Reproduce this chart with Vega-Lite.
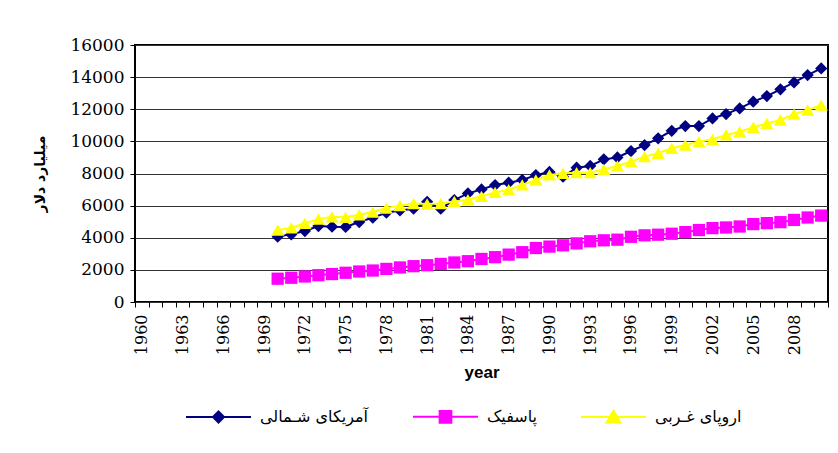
{
  "$schema": "https://vega.github.io/schema/vega-lite/v6.json",
  "autosize": "none",
  "width": 693,
  "height": 257,
  "padding": {"left": 135, "top": 45, "right": 10, "bottom": 151},
  "background": "white",
  "config": {
    "view": {"stroke": "#000", "strokeWidth": 2},
    "axis": {"domain": false, "tickColor": "#000", "labelColor": "#000", "titleColor": "#000"}
  },
  "data": {"values": [
    {"year": 1970, "na": 4070, "pac": 1450, "eu": 4480},
    {"year": 1971, "na": 4210, "pac": 1510, "eu": 4610},
    {"year": 1972, "na": 4420, "pac": 1590, "eu": 4900},
    {"year": 1973, "na": 4730, "pac": 1670, "eu": 5160},
    {"year": 1974, "na": 4690, "pac": 1740, "eu": 5300},
    {"year": 1975, "na": 4670, "pac": 1820, "eu": 5270},
    {"year": 1976, "na": 4980, "pac": 1900, "eu": 5430},
    {"year": 1977, "na": 5250, "pac": 1960, "eu": 5600},
    {"year": 1978, "na": 5560, "pac": 2060, "eu": 5850},
    {"year": 1979, "na": 5700, "pac": 2150, "eu": 6000},
    {"year": 1980, "na": 5810, "pac": 2230, "eu": 6130},
    {"year": 1981, "na": 6240, "pac": 2290, "eu": 6100},
    {"year": 1982, "na": 5810, "pac": 2370, "eu": 6130},
    {"year": 1983, "na": 6350, "pac": 2460, "eu": 6260},
    {"year": 1984, "na": 6760, "pac": 2540, "eu": 6370},
    {"year": 1985, "na": 7010, "pac": 2680, "eu": 6580},
    {"year": 1986, "na": 7280, "pac": 2790, "eu": 6820},
    {"year": 1987, "na": 7430, "pac": 2950, "eu": 6990},
    {"year": 1988, "na": 7600, "pac": 3100, "eu": 7290},
    {"year": 1989, "na": 7900, "pac": 3360, "eu": 7600},
    {"year": 1990, "na": 8100, "pac": 3450, "eu": 7910},
    {"year": 1991, "na": 7800, "pac": 3530, "eu": 8010},
    {"year": 1992, "na": 8360, "pac": 3650, "eu": 8050},
    {"year": 1993, "na": 8470, "pac": 3780, "eu": 8050},
    {"year": 1994, "na": 8880, "pac": 3840, "eu": 8260},
    {"year": 1995, "na": 9000, "pac": 3880, "eu": 8470},
    {"year": 1996, "na": 9400, "pac": 4060, "eu": 8740},
    {"year": 1997, "na": 9770, "pac": 4150, "eu": 9050},
    {"year": 1998, "na": 10190, "pac": 4190, "eu": 9260},
    {"year": 1999, "na": 10660, "pac": 4250, "eu": 9570},
    {"year": 2000, "na": 10950, "pac": 4350, "eu": 9770},
    {"year": 2001, "na": 10950, "pac": 4480, "eu": 9980},
    {"year": 2002, "na": 11430, "pac": 4600, "eu": 10130},
    {"year": 2003, "na": 11700, "pac": 4640, "eu": 10400},
    {"year": 2004, "na": 12050, "pac": 4700, "eu": 10600},
    {"year": 2005, "na": 12470, "pac": 4850, "eu": 10880},
    {"year": 2006, "na": 12820, "pac": 4910, "eu": 11120},
    {"year": 2007, "na": 13240, "pac": 4970, "eu": 11330},
    {"year": 2008, "na": 13670, "pac": 5110, "eu": 11700},
    {"year": 2009, "na": 14130, "pac": 5260, "eu": 11950},
    {"year": 2010, "na": 14540, "pac": 5380, "eu": 12260}
  ]},
  "transform": [{"fold": ["na", "pac", "eu"], "as": ["series", "value"]}],
  "encoding": {
    "x": {
      "field": "year", "type": "ordinal", "bandPosition": 0.5,
      "scale": {"type": "band", "paddingInner": 0, "paddingOuter": 0,
        "domain": [1960,1961,1962,1963,1964,1965,1966,1967,1968,1969,1970,1971,1972,1973,1974,1975,1976,1977,1978,1979,1980,1981,1982,1983,1984,1985,1986,1987,1988,1989,1990,1991,1992,1993,1994,1995,1996,1997,1998,1999,2000,2001,2002,2003,2004,2005,2006,2007,2008,2009,2010]},
      "axis": {
        "title": "year", "titleFont": "Liberation Sans", "titleFontWeight": "bold", "titleFontSize": 17, "titlePadding": 10,
        "labelAngle": 270, "labelFont": "DejaVu Serif", "labelFontSize": 16, "labelPadding": 7,
        "labelOverlap": false, "labelExpr": "datum.value % 3 == 1 ? datum.value : ''",
        "tickBand": "extent", "tickSize": 5, "grid": false
      }
    },
    "y": {
      "field": "value", "type": "quantitative",
      "scale": {"domain": [0, 16000], "nice": false},
      "axis": {
        "title": "میلیارد دلار", "titleFont": "DejaVu Sans", "titleFontWeight": "bold", "titleFontSize": 14, "titlePadding": 22,
        "values": [0,2000,4000,6000,8000,10000,12000,14000,16000], "format": "d",
        "labelFont": "DejaVu Serif", "labelFontSize": 17, "labelPadding": 6, "tickSize": 5,
        "grid": true, "gridColor": "#333", "gridWidth": 1
      }
    }
  },
  "layer": [
    {"transform": [{"filter": "datum.series == 'na'"}], "mark": {"type": "line", "color": "#000080", "strokeWidth": 2}},
    {"transform": [{"filter": "datum.series == 'na'"}], "mark": {"type": "point", "shape": "diamond", "filled": true, "color": "#000080", "opacity": 1, "size": 150}},
    {"transform": [{"filter": "datum.series == 'pac'"}], "mark": {"type": "line", "color": "#FF00FF", "strokeWidth": 2}},
    {"transform": [{"filter": "datum.series == 'pac'"}], "mark": {"type": "point", "shape": "square", "filled": true, "color": "#FF00FF", "opacity": 1, "size": 150}},
    {"transform": [{"filter": "datum.series == 'eu'"}], "mark": {"type": "line", "color": "#FFFF00", "strokeWidth": 2}},
    {"transform": [{"filter": "datum.series == 'eu'"}], "mark": {"type": "point", "shape": "triangle-up", "filled": true, "color": "#FFFF00", "opacity": 1, "size": 170}},
    {
      "mark": {"type": "point", "filled": true, "opacity": 0},
      "encoding": {
        "color": {"field": "series", "type": "nominal",
          "scale": {"domain": ["na", "pac", "eu"], "range": ["#000080", "#FF00FF", "#FFFF00"]},
          "legend": {
            "orient": "none", "legendX": 50, "legendY": 338, "direction": "horizontal", "title": null,
            "symbolSize": 4225, "symbolStrokeWidth": 2, "symbolOpacity": 1,
            "labelFont": "DejaVu Sans", "labelFontSize": 16, "labelColor": "#000", "labelOffset": 8, "columnPadding": 40,
            "labelExpr": "datum.value == 'na' ? 'آمریکای شـمالی' : datum.value == 'pac' ? 'پاسفیک' : 'اروپای غـربی'",
            "encode": {"symbols": {"update": {"fillOpacity": {"value": 1}, "strokeOpacity": {"value": 1}, "opacity": {"value": 1}}}}
          }
        },
        "stroke": {"field": "series", "type": "nominal",
          "scale": {"domain": ["na", "pac", "eu"], "range": ["#000080", "#FF00FF", "#FFFF00"]}
        },
        "shape": {"field": "series", "type": "nominal",
          "scale": {"domain": ["na", "pac", "eu"], "range": [
            "M-1,0H1M0,-0.17L0.17,0L0,0.17L-0.17,0Z",
            "M-1,0H1M-0.18,-0.18H0.18V0.18H-0.18Z",
            "M-1,0H1M0,-0.19L0.21,0.17H-0.21Z"
          ]}
        }
      }
    }
  ]
}
